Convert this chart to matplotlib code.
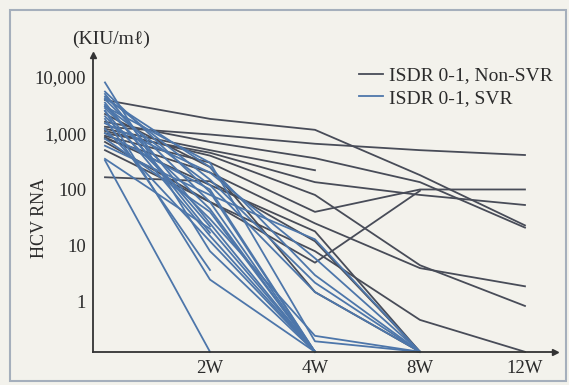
import numpy as np
import matplotlib
matplotlib.use("Agg")
import matplotlib.pyplot as plt
from matplotlib.patches import Rectangle

plt.rcParams['font.family'] = ['Liberation Serif', 'DejaVu Serif']

# time points: 0, 2W, 4W, 8W, 12W (undetectable drawn on the axis)
weeks = [0, 1, 2, 3, 4]
week_labels = ['2W', '4W', '8W', '12W']
UND = 0.13
nan = np.nan

non_svr = [
    [3900, 1800, 1150, 180, 23],
    [1300, 950, 650, 500, 410],
    [1600, 700, 360, 135, 21],
    [900, 300, 40, 100, 100],
    [1000, 450, 135, 80, 53],
    [700, 60, 5, 95, nan],
    [800, 200, 25, 4, 1.9],
    [1100, 400, 80, 4.5, 0.85],
    [500, 60, 8, 0.48, UND],
    [165, 140, 12, UND, nan],
    [850, 120, 18, UND, nan],
    [1200, 500, 220, nan, nan],
    [2200, 250, 1.5, UND, nan],
]

svr = [
    [330, UND, nan, nan, nan],
    [2500, 2.5, UND, nan, nan],
    [1800, 3.7, nan, nan, nan],
    [3500, 17, nan, nan, nan],
    [5000, 25, UND, nan, nan],
    [4000, 60, UND, nan, nan],
    [3000, 120, 1.5, UND, nan],
    [2500, 15, UND, nan, nan],
    [1500, 200, 6, UND, nan],
    [800, 40, UND, nan, nan],
    [600, 80, 13, UND, nan],
    [8000, 8, UND, nan, nan],
    [3000, 300, 0.2, UND, nan],
    [2000, 30, 0.25, UND, nan],
    [1200, 12, UND, nan, nan],
    [4500, 150, 2.2, UND, nan],
    [350, 20, UND, nan, nan],
    [2800, 45, UND, nan, nan],
    [5500, 90, UND, nan, nan],
    [3200, 22, nan, nan, nan],
    [1000, 100, UND, nan, nan],
    [4200, 250, 3, UND, nan],
]

gray = '#484c58'
blue = '#4d76aa'
ink = '#2b2b2b'

fig = plt.figure(figsize=(5.69, 3.85), dpi=100, facecolor='#f3f2ec')
ax = fig.add_axes([93/569, 1-352/385, (555-93)/569, (352-55)/385])
ax.set_facecolor('none')

for i, row in enumerate(non_svr):
    ax.plot(weeks, row, color=gray, lw=1.3, clip_on=False,
            label='ISDR 0-1, Non-SVR' if i == 0 else None)
for i, row in enumerate(svr):
    ax.plot(weeks, row, color=blue, lw=1.3, clip_on=False,
            label='ISDR 0-1, SVR' if i == 0 else None)

ax.set_yscale('log')
ax.set_xlim(-0.114, 4.286)
ax.set_ylim(0.129, 24600)
ax.set_yticks([1, 10, 100, 1000, 10000])
ax.set_yticklabels(['1', '10', '100', '1,000', '10,000'])
ax.minorticks_off()
ax.set_xticks([1, 2, 3, 4])
ax.set_xticklabels(week_labels)
ax.tick_params(length=0, labelsize=13.5, colors=ink, pad=5)
ax.tick_params(axis='x', pad=6)

for s in ['top', 'right']:
    ax.spines[s].set_visible(False)
for s in ['left', 'bottom']:
    ax.spines[s].set_color('#333333')
    ax.spines[s].set_linewidth(1.3)
ax.plot(0, 1, '^', transform=ax.transAxes, ms=4, color='#333333', clip_on=False)
ax.plot(1, 0, '>', transform=ax.transAxes, ms=4, color='#333333', clip_on=False)

fig.text(111/569, 1-39/385, '(KIU/mℓ)', ha='center', va='center', fontsize=14, color=ink)
fig.text(40/569, 1-218/385, 'HCV RNA', ha='center', va='center', rotation=90,
         fontsize=13, color=ink)

ax.legend(loc='upper right', bbox_to_anchor=(562/569, 1-57/385), bbox_transform=fig.transFigure,
          frameon=False, handlelength=1.2, handletextpad=0.3, labelspacing=0.25,
          fontsize=14, labelcolor=ink, borderpad=0)

fig.patches.append(Rectangle((10/569, 1-381/385), 556/569, 371/385, transform=fig.transFigure,
                             fill=False, ec='#a5afbc', lw=1.5))

fig.savefig('out.png', dpi=100, facecolor=fig.get_facecolor())
